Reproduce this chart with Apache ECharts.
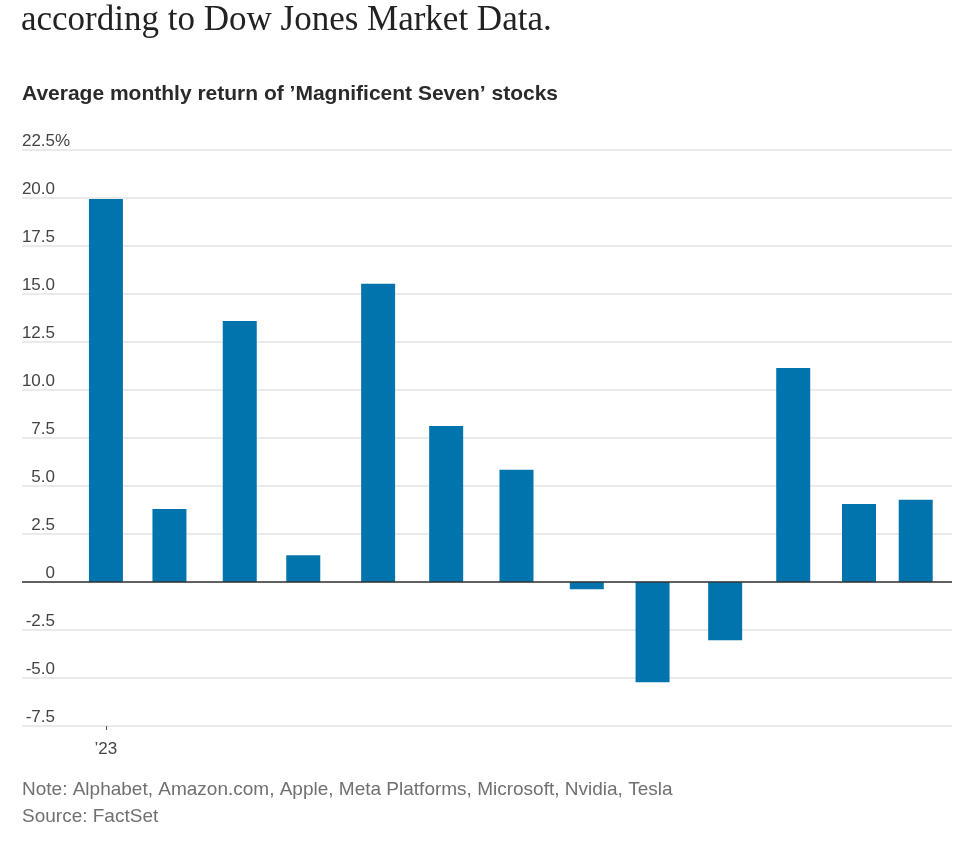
<!DOCTYPE html>
<html>
<head>
<meta charset="utf-8">
<script src="https://cdn.jsdelivr.net/npm/echarts@6/dist/echarts.min.js"></script>
<style>
  html, body { margin: 0; padding: 0; background: #fff; }
  #chart { width: 973px; height: 849px; }
</style>
</head>
<body>
<div id="chart"></div>
<script>
// Month-end dates of each monthly return (last one: partial January 2024)
const dates = ['2023-01-31','2023-02-28','2023-03-31','2023-04-28','2023-05-31','2023-06-30',
               '2023-07-31','2023-08-31','2023-09-29','2023-10-31','2023-11-30','2023-12-29','2024-01-23'];
// Average monthly return (%)
const returns = [19.95, 3.80, 13.59, 1.39, 15.53, 8.12, 5.85, -0.38, -5.22, -3.04, 11.14, 4.06, 4.28];
const xTickDates = ['2023-01-31'];
const xTickLabels = ['\u201923'];
const xRange = ['2022-12-25', '2024-02-08'];
const headline = 'according to Dow Jones Market Data.';
const chartTitle = 'Average monthly return of \u2019Magnificent Seven\u2019 stocks';
const note = 'Note: Alphabet, Amazon.com, Apple, Meta Platforms, Microsoft, Nvidia, Tesla';
const source = 'Source: FactSet';

function toTs(s) { const p = s.split('-').map(Number); return Date.UTC(p[0], p[1] - 1, p[2]); }

const chart = echarts.init(document.getElementById('chart'), null, { renderer: 'canvas' });
const sans = '"Liberation Sans", Arial, sans-serif';
const tickTs = xTickDates.map(toTs);

chart.setOption({
  animation: false,
  backgroundColor: '#ffffff',
  title: [
    { text: headline, left: 21, top: 3, padding: 0,
      textStyle: { fontFamily: '"Liberation Serif", "DejaVu Serif", serif', fontSize: 35, fontWeight: 'normal', color: '#222' } },
    { text: chartTitle, left: 22, top: 84, padding: 0,
      textStyle: { fontFamily: sans, fontSize: 21, fontWeight: 'bold', color: '#2a2a2a' } },
    { text: note, left: 22, top: 780, padding: 0,
      textStyle: { fontFamily: sans, fontSize: 19, fontWeight: 'normal', color: '#707070' } },
    { text: source, left: 22, top: 807, padding: 0,
      textStyle: { fontFamily: sans, fontSize: 19, fontWeight: 'normal', color: '#707070' } }
  ],
  grid: { left: 22, right: 21, top: 150, bottom: 123, containLabel: false },
  xAxis: {
    type: 'value',
    min: toTs(xRange[0]),
    max: toTs(xRange[1]),
    axisLine: { show: false, onZero: false },
    splitLine: { show: false },
    axisTick: { show: true, customValues: tickTs, length: 4, lineStyle: { color: '#555', width: 1 } },
    axisLabel: {
      show: true, customValues: tickTs, margin: 15,
      formatter: (v) => { const i = tickTs.indexOf(v); return i >= 0 ? xTickLabels[i] : ''; },
      fontFamily: sans, fontSize: 17, color: '#444'
    }
  },
  yAxis: {
    type: 'value',
    min: -7.5, max: 22.5, interval: 2.5,
    axisLine: { show: false },
    axisTick: { show: false },
    splitLine: { show: true, lineStyle: { color: '#e3e3e3', width: 1.5 } },
    axisLabel: {
      inside: true, margin: 0, align: 'left', verticalAlign: 'bottom',
      formatter: (v) => {
        const s = v === 0 ? '0' : v.toFixed(1);
        return v === 22.5 ? '{n|' + s + '}{p|%}' : '{n|' + s + '}';
      },
      rich: {
        n: { width: 33, align: 'right', fontFamily: sans, fontSize: 17, color: '#444', lineHeight: 18 },
        p: { fontFamily: sans, fontSize: 17, color: '#444', lineHeight: 18 }
      }
    }
  },
  series: [{
    type: 'bar',
    data: dates.map((d, i) => [toTs(d), returns[i]]),
    barWidth: 34,
    itemStyle: { color: '#0274ad' },
    markLine: {
      silent: true, symbol: 'none',
      label: { show: false },
      lineStyle: { color: '#333', width: 1.5, type: 'solid' },
      data: [{ yAxis: 0 }]
    }
  }]
});
</script>
</body>
</html>
